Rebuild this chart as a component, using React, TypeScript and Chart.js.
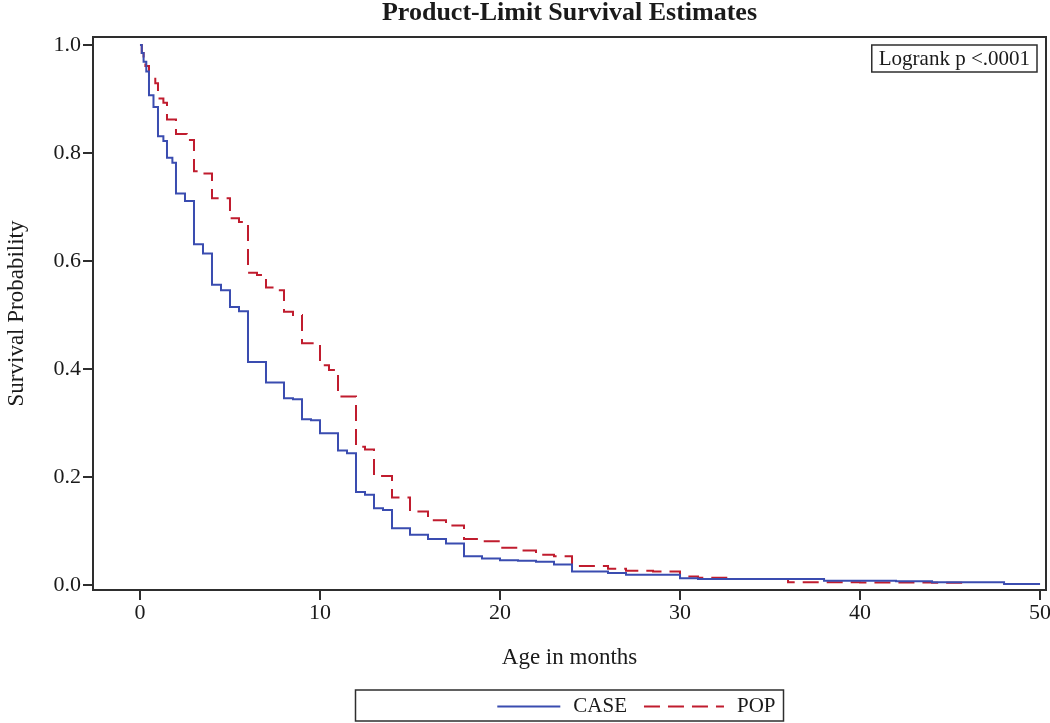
import React, { useEffect, useRef } from "react";
import { Chart, registerables } from "chart.js";

Chart.register(...registerables);

// ---- Data ----
const caseTimes = [
  0, 0.1, 0.2, 0.35, 0.5, 0.75, 1.0, 1.3, 1.5, 1.8,
  2.0, 2.5, 3.0, 3.5, 4.0, 4.5, 5.0, 5.5, 6.0, 7.0,
  8.0, 8.5, 9.0, 9.5, 10.0, 11.0, 11.5, 12.0, 12.5, 13.0,
  13.5, 14.0, 15.0, 16.0, 17.0, 18.0, 19.0, 20.0, 21.0, 22.0,
  23.0, 24.0, 26.0, 27.0, 30.0, 31.0, 38.0, 42.0, 44.0, 48.0,
  50.0,
];
const caseSurvival = [
  1.0, 0.985, 0.969, 0.951, 0.907, 0.885, 0.831, 0.822, 0.791, 0.782,
  0.725, 0.711, 0.631, 0.614, 0.556, 0.546, 0.515, 0.507, 0.413, 0.375,
  0.346, 0.344, 0.307, 0.305, 0.281, 0.249, 0.244, 0.172, 0.167, 0.142,
  0.139, 0.105, 0.093, 0.085, 0.077, 0.053, 0.049, 0.046, 0.045, 0.043,
  0.038, 0.025, 0.022, 0.019, 0.0125, 0.011, 0.008, 0.007, 0.005, 0.002,
  0.002,
];
const popTimes = [
  0, 0.1, 0.2, 0.3, 0.5, 0.85, 1.0, 1.3, 1.5, 2.0,
  2.6, 3.0, 3.5, 4.0, 5.0, 5.5, 6.0, 6.5, 7.0, 7.5,
  8.0, 8.5, 9.0, 10.0, 10.5, 11.0, 12.0, 12.5, 13.0, 14.0,
  15.0, 16.0, 17.0, 18.0, 19.0, 20.0, 21.0, 22.0, 23.0, 24.0,
  26.0, 27.0, 28.5, 30.0, 31.0, 33.0, 36.0, 40.0, 44.0, 46.0,
];
const popSurvival = [
  1.0, 0.985, 0.967, 0.961, 0.941, 0.929, 0.901, 0.893, 0.862, 0.835,
  0.824, 0.766, 0.762, 0.716, 0.679, 0.672, 0.578, 0.574, 0.551, 0.546,
  0.506, 0.5, 0.4475, 0.407, 0.398, 0.349, 0.256, 0.251, 0.202, 0.162,
  0.136, 0.12, 0.11, 0.085, 0.081, 0.069, 0.064, 0.056, 0.053, 0.035,
  0.03, 0.0265, 0.025, 0.0155, 0.0135, 0.011, 0.005, 0.0045, 0.004, 0.002,
];
const xTickValues = [0, 10, 20, 30, 40, 50];
const yTickValues = [0, 0.2, 0.4, 0.6, 0.8, 1.0];
const seriesNames = ["CASE", "POP"];
const chartTitle = "Product-Limit Survival Estimates";
const xAxisTitle = "Age in months";
const yAxisTitle = "Survival Probability";
const insetText = "Logrank p <.0001";

// ---- Styles ----
const FONT = "'Liberation Serif', 'Times New Roman', serif";
const INK = "#2e2e2e";
const TEXT = "#1a1a1a";
const BLUE = "#3a4cb0";
const RED = "#c01c2e";
const RED_DASH = [16, 8];
const legendSampleLengths = [63, 80];

const extrasPlugin = {
  id: "kmExtras",
  afterDatasetsDraw(chart: any) {
    const { ctx, chartArea } = chart;
    const { left, right, top, bottom } = chartArea;
    ctx.save();
    // plot frame
    ctx.strokeStyle = INK;
    ctx.lineWidth = 2;
    ctx.setLineDash([]);
    ctx.strokeRect(left, top, right - left, bottom - top);
    // logrank inset
    ctx.font = `21px ${FONT}`;
    const tw = ctx.measureText(insetText).width;
    const boxW = tw + 14;
    const boxH = 27;
    const boxR = right - 9;
    const boxT = top + 8;
    ctx.lineWidth = 1.5;
    ctx.strokeRect(boxR - boxW, boxT, boxW, boxH);
    ctx.fillStyle = TEXT;
    ctx.textAlign = "center";
    ctx.textBaseline = "middle";
    ctx.fillText(insetText, boxR - boxW / 2, boxT + boxH / 2 + 1);
    ctx.restore();
  },
  afterDraw(chart: any) {
    const { ctx, chartArea } = chart;
    const cx = (chartArea.left + chartArea.right) / 2;
    const boxW = 428;
    const boxH = 31;
    const boxL = cx - boxW / 2;
    const boxR = cx + boxW / 2;
    const boxT = chart.height - 33;
    const midY = boxT + boxH / 2 + 1;
    ctx.save();
    ctx.strokeStyle = INK;
    ctx.lineWidth = 1.5;
    ctx.setLineDash([]);
    ctx.strokeRect(boxL, boxT, boxW, boxH);
    ctx.font = `21px ${FONT}`;
    ctx.textBaseline = "middle";
    ctx.textAlign = "right";
    let x = boxR - 8;
    const ds = chart.data.datasets;
    for (let i = ds.length - 1; i >= 0; i--) {
      const label = ds[i].label;
      ctx.fillStyle = TEXT;
      ctx.fillText(label, x, midY);
      x -= ctx.measureText(label).width + 13;
      const len = legendSampleLengths[i];
      ctx.beginPath();
      ctx.strokeStyle = ds[i].borderColor;
      ctx.lineWidth = 2;
      ctx.setLineDash(ds[i].borderDash || []);
      ctx.moveTo(x - len, midY);
      ctx.lineTo(x, midY);
      ctx.stroke();
      x -= len + 17;
    }
    ctx.restore();
  },
};

export default function App() {
  const canvasRef = useRef<HTMLCanvasElement | null>(null);

  useEffect(() => {
    const canvas = canvasRef.current;
    if (!canvas) return;
    const chart = new Chart(canvas, {
      type: "line",
      data: {
        datasets: [
          {
            label: seriesNames[0],
            data: caseTimes.map((t, i) => ({ x: t, y: caseSurvival[i] })),
            borderColor: BLUE,
            backgroundColor: BLUE,
            borderWidth: 2,
            stepped: "before",
            pointRadius: 0,
            fill: false,
          },
          {
            label: seriesNames[1],
            data: popTimes.map((t, i) => ({ x: t, y: popSurvival[i] })),
            borderColor: RED,
            backgroundColor: RED,
            borderWidth: 2,
            borderDash: RED_DASH,
            stepped: "before",
            pointRadius: 0,
            fill: false,
          },
        ],
      },
      options: {
        responsive: false,
        animation: false,
        devicePixelRatio: 1,
        layout: { padding: { left: 0, right: 4, top: 0, bottom: 48 } },
        plugins: {
          legend: { display: false },
          tooltip: { enabled: false },
          title: {
            display: true,
            text: chartTitle,
            fullSize: false,
            color: TEXT,
            font: { family: FONT, size: 26, weight: "bold", lineHeight: 1 },
            padding: { top: 0, bottom: 11 },
          },
        },
        scales: {
          x: {
            type: "linear",
            min: -2.61,
            max: 50.33,
            afterBuildTicks: (s: any) => {
              s.ticks = xTickValues.map((v) => ({ value: v }));
            },
            afterFit: (s: any) => {
              s.height = 85;
              s.paddingLeft = 0;
              s.paddingRight = 0;
            },
            ticks: {
              font: { family: FONT, size: 22 },
              color: TEXT,
              padding: 0,
              maxRotation: 0,
              autoSkip: false,
            },
            grid: {
              drawOnChartArea: false,
              drawTicks: true,
              tickLength: 10,
              color: INK,
              lineWidth: 2,
            },
            border: { display: true, color: INK, width: 2 },
            title: {
              display: true,
              text: xAxisTitle,
              color: TEXT,
              font: { family: FONT, size: 23 },
              padding: { top: 0, bottom: 3 },
            },
          },
          y: {
            type: "linear",
            min: -0.0093,
            max: 1.0148,
            afterBuildTicks: (s: any) => {
              s.ticks = yTickValues.map((v) => ({ value: v }));
            },
            afterFit: (s: any) => {
              s.width = 93;
              s.paddingTop = 0;
              s.paddingBottom = 0;
            },
            ticks: {
              font: { family: FONT, size: 22 },
              color: TEXT,
              padding: 2,
              autoSkip: false,
              callback: (v: any) => Number(v).toFixed(1),
            },
            grid: {
              drawOnChartArea: false,
              drawTicks: true,
              tickLength: 10,
              color: INK,
              lineWidth: 2,
            },
            border: { display: true, color: INK, width: 2 },
            title: {
              display: true,
              text: yAxisTitle,
              color: TEXT,
              font: { family: FONT, size: 23 },
              padding: { top: 3, bottom: 0 },
            },
          },
        },
      },
      plugins: [extrasPlugin],
    } as any);
    return () => chart.destroy();
  }, []);

  return (
    <div style={{ position: "absolute", left: 0, top: 0, width: 1050, height: 723, background: "#fff" }}>
      <canvas ref={canvasRef} width={1050} height={723} style={{ display: "block" }} />
    </div>
  );
}
